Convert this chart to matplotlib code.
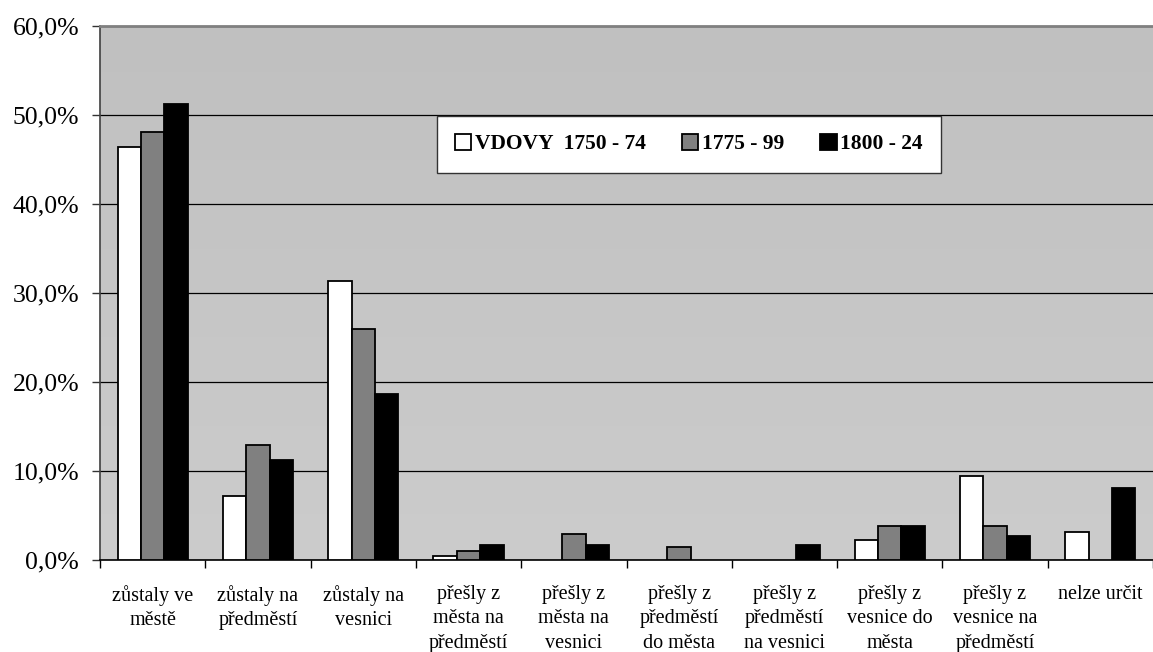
import matplotlib
matplotlib.use("Agg")
import matplotlib.pyplot as plt
import numpy as np
from matplotlib.patches import Patch
from matplotlib.ticker import FuncFormatter, FixedLocator

categories = ["zůstaly ve\nměstě",
              "zůstaly na\npředměstí",
              "zůstaly na\nvesnici",
              "přešly z\nměsta na\npředměstí",
              "přešly z\nměsta na\nvesnici",
              "přešly z\npředměstí\ndo města",
              "přešly z\npředměstí\nna vesnici",
              "přešly z\nvesnice do\nměsta",
              "přešly z\nvesnice na\npředměstí",
              "nelze určit"]
series_names = ["VDOVY  1750 - 74", "1775 - 99", "1800 - 24"]
s1750 = [46.4, 7.2, 31.3, 0.5, 0.0, 0.0, 0.0, 2.2, 9.4, 3.1]
s1775 = [48.1, 12.9, 26.0, 1.0, 2.9, 1.5, 0.0, 3.8, 3.8, 0.0]
s1800 = [51.2, 11.2, 18.7, 1.7, 1.7, 0.0, 1.7, 3.8, 2.7, 8.1]
colors = ["#FFFFFF", "#808080", "#000000"]
yticks = [0, 10, 20, 30, 40, 50, 60]

plt.rcParams['font.family'] = ['Liberation Serif', 'DejaVu Serif']

fig = plt.figure(figsize=(11.53, 6.52), dpi=100)
ax = fig.add_axes([100/1153, 92/652, 1 - 100/1153, (560-26)/652])

# gradient background
grad = np.linspace(0, 1, 256).reshape(-1, 1)
ax.imshow(grad, extent=[0, 1, 0, 1], transform=ax.transAxes, aspect='auto',
          cmap=matplotlib.colors.LinearSegmentedColormap.from_list('g', ['#CCCCCC', '#C0C0C0']),
          origin='lower', zorder=0)

x = np.arange(len(categories))
w = 1 / 4.5
for k, (vals, col) in enumerate(zip([s1750, s1775, s1800], colors)):
    bars = ax.bar(x + (k - 1) * w, vals, width=w, color=col, edgecolor='black',
                  linewidth=1.3, zorder=3)
    for b, v in zip(bars, vals):
        if v == 0:
            b.set_visible(False)

ax.set_xlim(-0.5, len(categories) - 0.5)
ax.set_ylim(0, 60)
ax.yaxis.set_major_locator(FixedLocator(yticks))
ax.yaxis.set_major_formatter(FuncFormatter(lambda v, p: f"{v:.1f}".replace('.', ',') + "%"))
ax.grid(axis='y', color='black', linewidth=0.9, zorder=1)
ax.set_axisbelow(True)

ax.set_xticks(x)
ax.set_xticklabels(categories, fontsize=14.5, linespacing=1.38, va='top')
ax.set_xticks(np.arange(len(categories) + 1) - 0.5, minor=True)
ax.tick_params(axis='x', which='major', length=0, pad=18)
ax.tick_params(axis='x', which='minor', length=6, width=1, direction='out', color='black')
ax.tick_params(axis='y', which='major', length=6, width=1, direction='out', pad=9,
               labelsize=18.5, color='#333333')

ax.spines['right'].set_visible(False)
ax.spines['top'].set_color('#808080')
ax.spines['top'].set_linewidth(2)
ax.spines['left'].set_color('#404040')
ax.spines['left'].set_linewidth(1.2)
ax.spines['bottom'].set_color('black')
ax.spines['bottom'].set_linewidth(1.2)

handles = [Patch(facecolor=c, edgecolor='black', linewidth=1.3) for c in colors]
leg = ax.legend(handles, series_names, ncol=3, loc='upper left',
                bbox_to_anchor=((437-100)/1053, (560-115.7)/534),
                prop={'weight': 'bold', 'size': 15.5}, frameon=True, fancybox=False,
                edgecolor='#333333', framealpha=1, handlelength=0.75, handleheight=0.75,
                handletextpad=0.15, columnspacing=1.7, borderpad=0.85, borderaxespad=0)
leg.get_frame().set_linewidth(1.0)

fig.savefig("out.png", dpi=100)
